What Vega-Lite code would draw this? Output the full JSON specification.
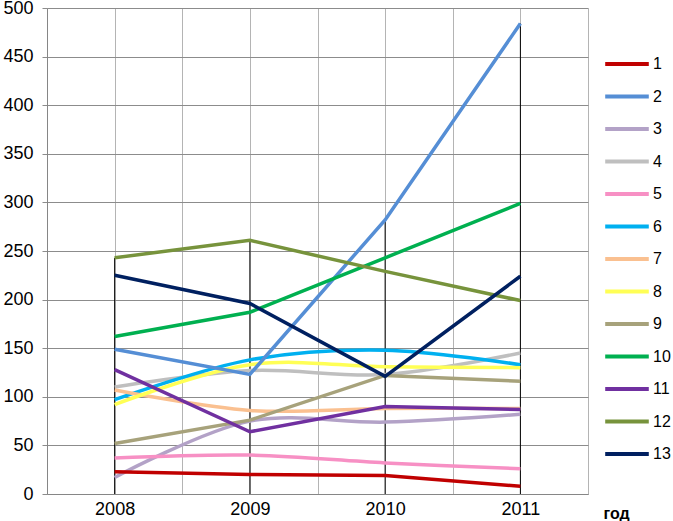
{
  "$schema": "https://vega.github.io/schema/vega-lite/v6.json",
  "width": 541,
  "height": 486,
  "autosize": {"type": "none"},
  "padding": {"left": 47, "top": 8, "right": 85, "bottom": 27},
  "background": "white",
  "config": {
    "view": {"stroke": null},
    "font": "Liberation Sans"
  },
  "data": {
    "values": [
      {"year": 2008, "s": "1", "v": 23}, {"year": 2009, "s": "1", "v": 20}, {"year": 2010, "s": "1", "v": 19}, {"year": 2011, "s": "1", "v": 8},
      {"year": 2008, "s": "2", "v": 149}, {"year": 2009, "s": "2", "v": 123}, {"year": 2010, "s": "2", "v": 282}, {"year": 2011, "s": "2", "v": 484},
      {"year": 2008, "s": "3", "v": 17}, {"year": 2009, "s": "3", "v": 75}, {"year": 2010, "s": "3", "v": 74}, {"year": 2011, "s": "3", "v": 82},
      {"year": 2008, "s": "4", "v": 110}, {"year": 2009, "s": "4", "v": 127}, {"year": 2010, "s": "4", "v": 123}, {"year": 2011, "s": "4", "v": 145},
      {"year": 2008, "s": "5", "v": 37}, {"year": 2009, "s": "5", "v": 40}, {"year": 2010, "s": "5", "v": 32}, {"year": 2011, "s": "5", "v": 26},
      {"year": 2008, "s": "6", "v": 97}, {"year": 2009, "s": "6", "v": 138}, {"year": 2010, "s": "6", "v": 148}, {"year": 2011, "s": "6", "v": 133},
      {"year": 2008, "s": "7", "v": 107}, {"year": 2009, "s": "7", "v": 86}, {"year": 2010, "s": "7", "v": 88}, {"year": 2011, "s": "7", "v": 88},
      {"year": 2008, "s": "8", "v": 92}, {"year": 2009, "s": "8", "v": 133}, {"year": 2010, "s": "8", "v": 131}, {"year": 2011, "s": "8", "v": 130},
      {"year": 2008, "s": "9", "v": 52}, {"year": 2009, "s": "9", "v": 76}, {"year": 2010, "s": "9", "v": 122}, {"year": 2011, "s": "9", "v": 116},
      {"year": 2008, "s": "10", "v": 162}, {"year": 2009, "s": "10", "v": 187}, {"year": 2010, "s": "10", "v": 243}, {"year": 2011, "s": "10", "v": 299},
      {"year": 2008, "s": "11", "v": 128}, {"year": 2009, "s": "11", "v": 64}, {"year": 2010, "s": "11", "v": 90}, {"year": 2011, "s": "11", "v": 87},
      {"year": 2008, "s": "12", "v": 243}, {"year": 2009, "s": "12", "v": 261}, {"year": 2010, "s": "12", "v": 229}, {"year": 2011, "s": "12", "v": 199},
      {"year": 2008, "s": "13", "v": 225}, {"year": 2009, "s": "13", "v": 196}, {"year": 2010, "s": "13", "v": 121}, {"year": 2011, "s": "13", "v": 224}
    ]
  },
  "layer": [
    {
      "transform": [
        {"aggregate": [{"op": "max", "field": "v", "as": "vmax"}], "groupby": ["year"]}
      ],
      "mark": {"type": "rule", "color": "black", "strokeWidth": 1},
      "encoding": {
        "x": {"field": "year", "type": "quantitative", "scale": {"domain": [2007.5, 2011.5]},
          "axis": {
            "values": [2007.5, 2008, 2008.5, 2009, 2009.5, 2010, 2010.5, 2011, 2011.5],
            "labelExpr": "datum.value % 1 === 0 ? toString(datum.value) : ''",
            "grid": true, "gridColor": "#b4b4b4", "gridWidth": 1,
            "ticks": false, "domainColor": "#868686", "domainWidth": 1,
            "labelFontSize": 18, "labelColor": "black", "labelPadding": 6, "labelFont": "Liberation Sans",
            "title": "год", "titleFontWeight": "bold", "titleFontSize": 16, "titleColor": "black",
            "titleX": 569, "titleY": 24, "titleBaseline": "alphabetic", "titleAlign": "center", "titleFont": "Liberation Sans"
          }
        },
        "y": {"field": "vmax", "type": "quantitative", "scale": {"domain": [0, 500]},
          "axis": {
            "values": [0, 50, 100, 150, 200, 250, 300, 350, 400, 450, 500],
            "grid": true, "gridColor": "#8c8c8c", "gridWidth": 1,
            "ticks": true, "tickSize": 5, "tickColor": "#8c8c8c",
            "domainColor": "#868686",
            "labelFontSize": 18, "labelColor": "black", "labelPadding": 9, "labelFont": "Liberation Sans",
            "title": null
          }
        },
        "y2": {"datum": 0}
      }
    },
    {
      "transform": [{"filter": {"field": "s", "oneOf": ["3", "4", "5", "6", "7", "8"]}}],
      "mark": {"type": "line", "strokeWidth": 3.5, "interpolate": "catmull-rom"},
      "encoding": {
        "x": {"field": "year", "type": "quantitative"},
        "y": {"field": "v", "type": "quantitative"},
        "color": {"field": "s", "type": "nominal"}
      }
    },
    {
      "transform": [{"filter": {"field": "s", "oneOf": ["1", "2", "9", "10", "11", "12", "13"]}}],
      "mark": {"type": "line", "strokeWidth": 3.5},
      "encoding": {
        "x": {"field": "year", "type": "quantitative"},
        "y": {"field": "v", "type": "quantitative"},
        "color": {"field": "s", "type": "nominal",
          "scale": {
            "domain": ["1", "2", "3", "4", "5", "6", "7", "8", "9", "10", "11", "12", "13"],
            "range": ["#C00000", "#558ED5", "#B3A2C7", "#BFBFBF", "#F790C4", "#00B0F0", "#FAC090", "#FFFF55", "#A7A27B", "#00B050", "#7030A0", "#77933C", "#002060"]
          },
          "legend": {
            "title": null, "orient": "none", "legendX": 556, "legendY": 32,
            "symbolType": "stroke", "symbolSize": 1900, "symbolStrokeWidth": 4,
            "labelFontSize": 16, "labelColor": "black", "labelOffset": 2, "labelFont": "Liberation Sans",
            "rowPadding": 0.5
          }
        }
      }
    }
  ]
}
